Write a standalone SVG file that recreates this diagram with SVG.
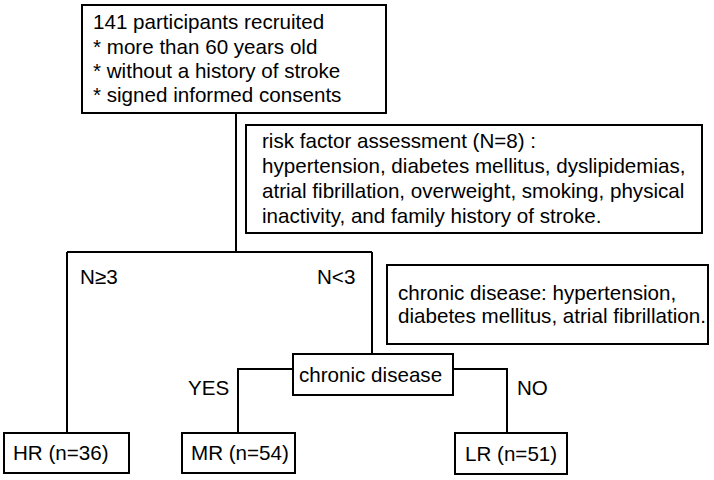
<svg xmlns="http://www.w3.org/2000/svg" width="714" height="480" viewBox="0 0 714 480">
<style>
.box{fill:#fff;stroke:#000;stroke-width:2}
.ln{fill:none;stroke:#000;stroke-width:2}
text{font-family:"Liberation Sans",Arial,sans-serif;font-size:20.6px;fill:#000}
</style>
<rect width="714" height="480" fill="#fff"/>
<g id="connectors">
<path class="ln" d="M236 113V252M67 252H372M67 252V433M372 252V354"/>
<path class="ln" d="M293 369H238V433M453 369H507V433"/>
<text x="80" y="284">N≥3</text>
<text x="317" y="284">N&lt;3</text>
<text x="188" y="395">YES</text>
<text x="517" y="395">NO</text>
</g>
<g id="start">
<rect class="box" x="82" y="5" width="304" height="108"/>
<text x="93" y="29">141 participants recruited</text>
<text x="93" y="54">* more than 60 years old</text>
<text x="93" y="78">* without a history of stroke</text>
<text x="93" y="102">* signed informed consents</text>
</g>
<g id="risk">
<rect class="box" x="246" y="125" width="456" height="108"/>
<text x="262" y="147.5">risk factor assessment (N=8) :</text>
<text x="262" y="172.5">hypertension, diabetes mellitus, dyslipidemias,</text>
<text x="262" y="197.5">atrial fibrillation, overweight, smoking, physical</text>
<text x="262" y="222.5">inactivity, and family history of stroke.</text>
</g>
<g id="chronic-note">
<rect class="box" x="387" y="265" width="321" height="79"/>
<text x="398" y="300">chronic disease: hypertension,</text>
<text x="398" y="323">diabetes mellitus, atrial fibrillation.</text>
</g>
<g id="chronic">
<rect class="box" x="293" y="354" width="160" height="41"/>
<text x="299" y="381.5">chronic disease</text>
</g>
<g id="hr">
<rect class="box" x="4" y="433" width="125" height="40"/>
<text x="13" y="460">HR (n=36)</text>
</g>
<g id="mr">
<rect class="box" x="182" y="433" width="113" height="40"/>
<text x="191" y="460">MR (n=54)</text>
</g>
<g id="lr">
<rect class="box" x="455" y="433" width="112" height="41"/>
<text x="465" y="460.5">LR (n=51)</text>
</g>
</svg>
